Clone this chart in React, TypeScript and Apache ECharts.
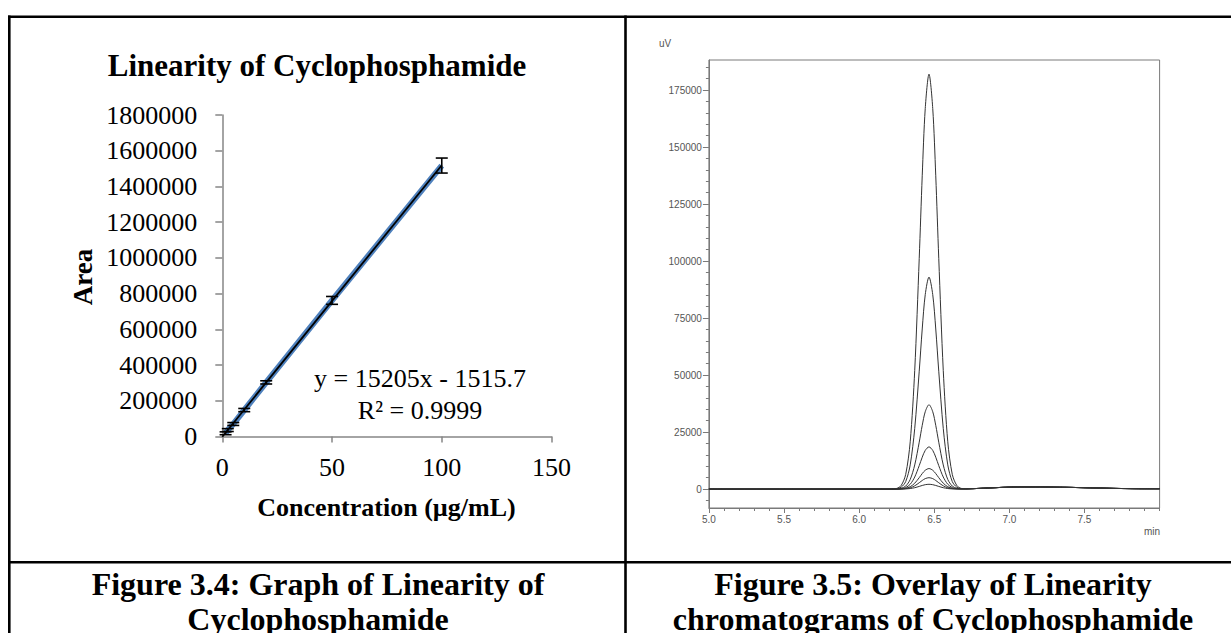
import React, { useEffect, useRef } from "react";
import * as echarts from "echarts";

// ---------- Left chart: linearity ----------
const concentrations = [1.5, 2.5, 5, 10, 20, 50, 100];
const meanAreas = [18000, 36000, 70000, 148000, 303000, 762000, 1517000];
const areaErrors = [8000, 8000, 8000, 9000, 9000, 22000, 42000];
const trendX = [0, 100];
const trendY = [-1516, 1518984];
const leftTitle = "Linearity of Cyclophosphamide";
const leftXName = "Concentration (µg/mL)";
const leftYName = "Area";
const equationText = "y = 15205x - 1515.7";
const r2Text = "R² = 0.9999";

// ---------- Right chart: overlay chromatograms ----------
const times = [
  5.0, 5.5, 6.0, 6.2, 6.25, 6.28, 6.31, 6.34, 6.37, 6.4, 6.42, 6.44, 6.465, 6.49, 6.51, 6.53, 6.56, 6.59,
  6.62, 6.65, 6.68, 6.72, 6.8, 6.9, 7.0, 7.1, 7.2, 7.3, 7.4, 7.5, 7.6, 7.7, 7.8, 7.9, 8.0,
];
const trace100 = [
  0, 0, 0, 0, 291, 1583, 6461, 20748, 52052, 101192, 137410, 166894, 182000, 166894, 137410, 101192, 52052,
  20748, 6461, 1583, 291, 120, 300, 600, 850, 950, 950, 850, 750, 600, 450, 300, 200, 150, 150,
];
const trace50 = [
  0, 0, 0, 0, 149, 809, 3302, 10602, 26598, 51708, 70215, 85281, 93000, 85281, 70215, 51708, 26598, 10602,
  3302, 809, 149, 120, 300, 600, 850, 950, 950, 850, 750, 600, 450, 300, 200, 150, 150,
];
const trace20 = [
  0, 0, 0, 0, 59, 322, 1314, 4218, 10582, 20572, 27935, 33929, 37000, 33929, 27935, 20572, 10582, 4218, 1314,
  322, 100, 120, 300, 600, 850, 950, 950, 850, 750, 600, 450, 300, 200, 150, 150,
];
const trace10 = [
  0, 0, 0, 0, 30, 161, 657, 2109, 5291, 10286, 13968, 16965, 18500, 16965, 13968, 10286, 5291, 2109, 657, 161,
  100, 120, 300, 600, 850, 950, 950, 850, 750, 600, 450, 300, 200, 150, 150,
];
const trace5 = [
  0, 0, 0, 0, 14, 78, 320, 1026, 2574, 5004, 6795, 8253, 9000, 8253, 6795, 5004, 2574, 1026, 320, 100, 100,
  120, 300, 600, 850, 950, 950, 850, 750, 600, 450, 300, 200, 150, 150,
];
const trace2 = [
  0, 0, 0, 0, 8, 44, 178, 570, 1430, 2780, 3775, 4585, 5000, 4585, 3775, 2780, 1430, 570, 178, 100, 100, 120,
  300, 600, 850, 950, 950, 850, 750, 600, 450, 300, 200, 150, 150,
];
const trace1 = [
  0, 0, 0, 0, 3, 18, 75, 239, 601, 1168, 1586, 1926, 2100, 1926, 1586, 1168, 601, 239, 100, 100, 100, 120,
  300, 600, 850, 950, 950, 850, 750, 600, 450, 300, 200, 150, 150,
];
const traces = [trace100, trace50, trace20, trace10, trace5, trace2, trace1];
const rightXLabels = [5.0, 5.5, 6.0, 6.5, 7.0, 7.5];
const rightXMinor = [
  5.0, 5.1, 5.2, 5.3, 5.4, 5.5, 5.6, 5.7, 5.8, 5.9, 6.0, 6.1, 6.2, 6.3, 6.4, 6.5, 6.6, 6.7, 6.8, 6.9, 7.0,
  7.1, 7.2, 7.3, 7.4, 7.5, 7.6, 7.7, 7.8, 7.9, 8.0,
];
const rightYLabels = [0, 25000, 50000, 75000, 100000, 125000, 150000, 175000];
const rightYMinor = [
  -5000, 5000, 10000, 15000, 20000, 30000, 35000, 40000, 45000, 55000, 60000, 65000, 70000, 80000, 85000,
  90000, 95000, 105000, 110000, 115000, 120000, 130000, 135000, 140000, 145000, 155000, 160000, 165000,
  170000, 180000, 185000,
];
const rightYUnit = "uV";
const rightXUnit = "min";

const captionLeft = ["Figure 3.4: Graph of Linearity of", "Cyclophosphamide"];
const captionRight = ["Figure 3.5: Overlay of Linearity", "chromatograms of Cyclophosphamide"];

const SERIF = "Liberation Serif";
const SANS = "Liberation Sans";

function txt(x: number, y: number, text: string, size: number, bold: boolean, family: string, extra: any = {}) {
  return {
    type: "text",
    x,
    y,
    silent: true,
    ...extra,
    style: {
      text,
      fontSize: size,
      fontWeight: bold ? "bold" : "normal",
      fontFamily: family,
      fill: extra.fill || "#000",
      align: extra.align || "center",
      verticalAlign: "middle",
      textAlign: extra.align || "center",
      textVerticalAlign: "middle",
    },
  };
}

function hline(x1: number, y1: number, x2: number, y2: number, w: number) {
  return {
    type: "line",
    silent: true,
    shape: { x1, y1, x2, y2 },
    style: { stroke: "#000", lineWidth: w },
  };
}

export default function App() {
  const ref = useRef<HTMLDivElement>(null);

  useEffect(() => {
    if (!ref.current) return;
    const chart = echarts.init(ref.current, undefined, { renderer: "svg" });
    const greyAxis = { color: "#868686", width: 1.5 };
    const rGrey = "#7a7a7a";

    const option: any = {
      animation: false,
      backgroundColor: "#fff",
      grid: [
        { left: 222.3, top: 115, width: 329.2, height: 321.5, outerBoundsMode: "none", containLabel: false },
        {
          left: 708.9,
          top: 60,
          width: 450.7,
          height: 448,
          show: true,
          borderColor: rGrey,
          borderWidth: 1,
          backgroundColor: "transparent",
          outerBoundsMode: "none",
          containLabel: false,
        },
      ],
      xAxis: [
        {
          type: "value",
          gridIndex: 0,
          min: 0,
          max: 150,
          interval: 50,
          axisLine: { show: true, onZero: false, lineStyle: greyAxis },
          axisTick: { show: true, length: 6, lineStyle: greyAxis },
          axisLabel: { fontFamily: SERIF, fontSize: 26, color: "#000", margin: 18 },
          splitLine: { show: false },
        },
        {
          type: "value",
          gridIndex: 1,
          min: 5,
          max: 8,
          position: "bottom",
          axisLine: { show: true, onZero: false, lineStyle: { color: rGrey, width: 1 } },
          axisTick: { show: true, length: 5, customValues: rightXLabels, lineStyle: { color: rGrey } },
          axisLabel: {
            customValues: rightXLabels,
            formatter: (v: number) => v.toFixed(1),
            fontFamily: SANS,
            fontSize: 10,
            color: "#555",
            margin: 6,
          },
          splitLine: { show: false },
        },
        {
          type: "value",
          gridIndex: 1,
          min: 5,
          max: 8,
          position: "bottom",
          axisLine: { show: false, onZero: false },
          axisTick: { show: true, length: 3, customValues: rightXMinor, lineStyle: { color: rGrey } },
          axisLabel: { show: false },
          splitLine: { show: false },
        },
      ],
      yAxis: [
        {
          type: "value",
          gridIndex: 0,
          min: 0,
          max: 1800000,
          interval: 200000,
          axisLine: { show: true, onZero: false, lineStyle: greyAxis },
          axisTick: { show: true, length: 7, lineStyle: greyAxis },
          axisLabel: {
            fontFamily: SERIF,
            fontSize: 26,
            color: "#000",
            margin: 25,
            formatter: (v: number) => String(v),
          },
          splitLine: { show: false },
        },
        {
          type: "value",
          gridIndex: 1,
          min: -8300,
          max: 188200,
          position: "left",
          axisLine: { show: true, onZero: false, lineStyle: { color: rGrey, width: 1 } },
          axisTick: { show: true, length: 6, customValues: rightYLabels, lineStyle: { color: rGrey } },
          axisLabel: {
            customValues: rightYLabels,
            formatter: (v: number) => String(v),
            fontFamily: SANS,
            fontSize: 10,
            color: "#555",
            margin: 7,
          },
          splitLine: { show: false },
        },
        {
          type: "value",
          gridIndex: 1,
          min: -8300,
          max: 188200,
          position: "left",
          axisLine: { show: false, onZero: false },
          axisTick: { show: true, length: 3, customValues: rightYMinor, lineStyle: { color: rGrey } },
          axisLabel: { show: false },
          splitLine: { show: false },
        },
      ],
      series: [
        {
          type: "line",
          xAxisIndex: 0,
          yAxisIndex: 0,
          data: concentrations.map((c, i) => [c, meanAreas[i]]),
          showSymbol: false,
          lineStyle: { color: "#4F81BD", width: 6 },
          z: 2,
        },
        {
          type: "line",
          xAxisIndex: 0,
          yAxisIndex: 0,
          data: trendX.map((c, i) => [c, trendY[i]]),
          showSymbol: false,
          lineStyle: { color: "#000", width: 1.8 },
          z: 3,
        },
        {
          type: "custom",
          xAxisIndex: 0,
          yAxisIndex: 0,
          data: concentrations.map((c, i) => [c, meanAreas[i], areaErrors[i]]),
          encode: { x: 0, y: 1 },
          z: 4,
          renderItem: (params: any, api: any) => {
            const x = api.value(0);
            const y = api.value(1);
            const e = api.value(2);
            const top = api.coord([x, y + e]);
            const bot = api.coord([x, y - e]);
            const hw = 6;
            const st = { stroke: "#000", lineWidth: 1.6 };
            return {
              type: "group",
              children: [
                { type: "line", shape: { x1: top[0], y1: top[1], x2: bot[0], y2: bot[1] }, style: st },
                { type: "line", shape: { x1: top[0] - hw, y1: top[1], x2: top[0] + hw, y2: top[1] }, style: st },
                { type: "line", shape: { x1: bot[0] - hw, y1: bot[1], x2: bot[0] + hw, y2: bot[1] }, style: st },
              ],
            };
          },
        },
        ...traces.map((tr) => ({
          type: "line",
          xAxisIndex: 1,
          yAxisIndex: 1,
          data: times.map((t, i) => [t, tr[i]]),
          showSymbol: false,
          smooth: 0.3,
          lineStyle: { color: "#333", width: 1 },
        })),
      ],
      graphic: {
        elements: [
          hline(8, 16.7, 1231, 16.7, 2.6),
          hline(9.3, 15.5, 9.3, 633, 2.6),
          hline(625.5, 15.5, 625.5, 633, 2.6),
          hline(8, 562.3, 1231, 562.3, 2.6),
          txt(317, 65, leftTitle, 31, true, SERIF),
          txt(83, 277, leftYName, 27, true, SERIF, { rotation: Math.PI / 2 }),
          txt(386.5, 507, leftXName, 26, true, SERIF),
          txt(420, 378, equationText, 26, false, SERIF),
          txt(420, 410, r2Text, 26, false, SERIF),
          txt(659, 43, rightYUnit, 10, false, SANS, { align: "left", fill: "#555" }),
          txt(1160, 531, rightXUnit, 10, false, SANS, { align: "right", fill: "#555" }),
          txt(318, 584, captionLeft[0], 32, true, SERIF),
          txt(318, 619, captionLeft[1], 32, true, SERIF),
          txt(933, 584, captionRight[0], 32, true, SERIF),
          txt(933, 619, captionRight[1], 32, true, SERIF),
        ],
      },
    };
    chart.setOption(option);
    return () => chart.dispose();
  }, []);

  return (
    <div
      ref={ref}
      style={{ position: "absolute", left: 0, top: 0, width: 1231, height: 633, background: "#fff" }}
    />
  );
}
